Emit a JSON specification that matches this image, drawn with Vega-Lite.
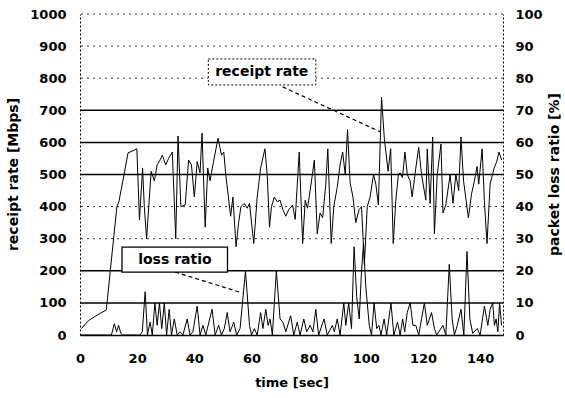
{
  "$schema": "https://vega.github.io/schema/vega-lite/v6.json",
  "autosize": "none",
  "width": 423,
  "height": 321,
  "padding": {"left": 80, "top": 14, "right": 62, "bottom": 63},
  "background": "white",
  "config": {
    "view": {"stroke": null},
    "axis": {
      "labelFont": "DejaVu Sans", "labelFontWeight": "bold", "labelFontSize": 13, "labelColor": "black",
      "titleFont": "DejaVu Sans", "titleFontWeight": "bold", "titleFontSize": 13, "titleColor": "black",
      "grid": false, "ticks": false, "domainColor": "black", "labelOverlap": false, "labelBound": false, "labelFlush": false, "format": "d"
    }
  },
  "datasets": {
    "rate": [
      {"t": 0.5, "v": 20}, {"t": 3, "v": 45}, {"t": 6, "v": 62}, {"t": 9.2, "v": 78}, {"t": 12.9, "v": 400},
      {"t": 13.6, "v": 415}, {"t": 15, "v": 480}, {"t": 16.8, "v": 567}, {"t": 19.9, "v": 580}, {"t": 20.8, "v": 358},
      {"t": 21.9, "v": 520}, {"t": 22.5, "v": 400}, {"t": 23.3, "v": 300}, {"t": 24.9, "v": 510}, {"t": 26, "v": 480},
      {"t": 27, "v": 530}, {"t": 28, "v": 545}, {"t": 28.8, "v": 560}, {"t": 30, "v": 530}, {"t": 31, "v": 550},
      {"t": 32.3, "v": 570}, {"t": 33.5, "v": 300}, {"t": 34.3, "v": 620}, {"t": 35.3, "v": 400}, {"t": 36.8, "v": 405},
      {"t": 38, "v": 545}, {"t": 39, "v": 530}, {"t": 40, "v": 430}, {"t": 41, "v": 540}, {"t": 42, "v": 505},
      {"t": 42.7, "v": 629}, {"t": 43.8, "v": 336}, {"t": 44.7, "v": 520}, {"t": 45.5, "v": 480}, {"t": 46.5, "v": 530},
      {"t": 48.3, "v": 613}, {"t": 49.5, "v": 560}, {"t": 50.3, "v": 570}, {"t": 51, "v": 500}, {"t": 52.7, "v": 370},
      {"t": 53.5, "v": 430}, {"t": 54.6, "v": 275}, {"t": 55.5, "v": 350}, {"t": 56.3, "v": 400}, {"t": 57.5, "v": 410},
      {"t": 58.5, "v": 395}, {"t": 59.3, "v": 410}, {"t": 60.8, "v": 285}, {"t": 62, "v": 430}, {"t": 63.2, "v": 520},
      {"t": 64.7, "v": 580}, {"t": 65.5, "v": 500}, {"t": 66.3, "v": 336}, {"t": 67, "v": 400}, {"t": 68, "v": 430},
      {"t": 69, "v": 415}, {"t": 70, "v": 420}, {"t": 71, "v": 390}, {"t": 72, "v": 370}, {"t": 73, "v": 390},
      {"t": 74.4, "v": 405}, {"t": 75.3, "v": 360}, {"t": 76.7, "v": 570}, {"t": 77.9, "v": 285}, {"t": 78.8, "v": 420},
      {"t": 79.6, "v": 395}, {"t": 81, "v": 480}, {"t": 82, "v": 545}, {"t": 83, "v": 315}, {"t": 84, "v": 380},
      {"t": 84.9, "v": 365}, {"t": 86, "v": 470}, {"t": 86.7, "v": 580}, {"t": 87.9, "v": 285}, {"t": 88.8, "v": 400},
      {"t": 90, "v": 460}, {"t": 91, "v": 530}, {"t": 91.9, "v": 570}, {"t": 92.8, "v": 500}, {"t": 93.6, "v": 640},
      {"t": 94.5, "v": 475}, {"t": 95.5, "v": 430}, {"t": 96.5, "v": 350}, {"t": 97.6, "v": 390}, {"t": 98.5, "v": 400},
      {"t": 99.5, "v": 220}, {"t": 100.5, "v": 400}, {"t": 101.5, "v": 430}, {"t": 102.7, "v": 500}, {"t": 103.5, "v": 470},
      {"t": 104.4, "v": 405}, {"t": 105.5, "v": 741}, {"t": 106.5, "v": 610}, {"t": 107.8, "v": 510}, {"t": 108.7, "v": 580},
      {"t": 109.6, "v": 285}, {"t": 110.5, "v": 420}, {"t": 111.4, "v": 500}, {"t": 112, "v": 505}, {"t": 112.8, "v": 490},
      {"t": 113.7, "v": 570}, {"t": 114.5, "v": 500}, {"t": 115.5, "v": 480}, {"t": 116.2, "v": 430}, {"t": 117.5, "v": 520},
      {"t": 118.5, "v": 585}, {"t": 119.5, "v": 500}, {"t": 121, "v": 420}, {"t": 121.5, "v": 580}, {"t": 122.5, "v": 410},
      {"t": 123.4, "v": 617}, {"t": 124, "v": 315}, {"t": 125, "v": 500}, {"t": 126.3, "v": 595}, {"t": 127, "v": 380},
      {"t": 128, "v": 405}, {"t": 129.5, "v": 500}, {"t": 130.5, "v": 410}, {"t": 131.5, "v": 500}, {"t": 132.5, "v": 450},
      {"t": 133.3, "v": 617}, {"t": 134.2, "v": 480}, {"t": 135.9, "v": 365}, {"t": 137, "v": 440}, {"t": 138, "v": 480},
      {"t": 138.9, "v": 525}, {"t": 139.5, "v": 470}, {"t": 140.7, "v": 580}, {"t": 141.5, "v": 415}, {"t": 142.4, "v": 285},
      {"t": 143.5, "v": 470}, {"t": 144.9, "v": 520}, {"t": 145.8, "v": 540}, {"t": 146.6, "v": 570}, {"t": 147.5, "v": 545}
    ],
    "loss": [
      {"t": 0, "p": 0}, {"t": 11, "p": 0}, {"t": 12, "p": 3.5}, {"t": 12.8, "p": 1}, {"t": 13.5, "p": 3}, {"t": 14.3, "p": 0.5},
      {"t": 15, "p": 0}, {"t": 21, "p": 0}, {"t": 21.8, "p": 1}, {"t": 22.8, "p": 13.5}, {"t": 23.6, "p": 0}, {"t": 24.5, "p": 4},
      {"t": 25.3, "p": 0}, {"t": 26.2, "p": 10}, {"t": 27, "p": 3}, {"t": 27.8, "p": 10}, {"t": 28.6, "p": 2}, {"t": 29.5, "p": 10},
      {"t": 30.3, "p": 0}, {"t": 31.2, "p": 8}, {"t": 32, "p": 0}, {"t": 33, "p": 5}, {"t": 34, "p": 0}, {"t": 35, "p": 1},
      {"t": 36, "p": 0}, {"t": 37.5, "p": 5}, {"t": 38.5, "p": 0}, {"t": 39.5, "p": 1}, {"t": 41, "p": 9}, {"t": 42, "p": 0},
      {"t": 43, "p": 3}, {"t": 44, "p": 0}, {"t": 46.2, "p": 8}, {"t": 47.3, "p": 0}, {"t": 48.5, "p": 3}, {"t": 49.5, "p": 0},
      {"t": 50.5, "p": 2}, {"t": 51.5, "p": 7}, {"t": 52.5, "p": 1}, {"t": 53.8, "p": 4}, {"t": 54.8, "p": 0}, {"t": 56, "p": 2},
      {"t": 57.9, "p": 20}, {"t": 59.3, "p": 3}, {"t": 60, "p": 0}, {"t": 61, "p": 2}, {"t": 62, "p": 0}, {"t": 63.2, "p": 7},
      {"t": 64, "p": 2}, {"t": 65, "p": 8}, {"t": 65.8, "p": 3}, {"t": 66.5, "p": 5}, {"t": 67.3, "p": 0}, {"t": 68.7, "p": 20},
      {"t": 70, "p": 5}, {"t": 71, "p": 4}, {"t": 72, "p": 1}, {"t": 73.7, "p": 6}, {"t": 74.8, "p": 0}, {"t": 76, "p": 4},
      {"t": 77, "p": 0}, {"t": 78.3, "p": 5}, {"t": 79.3, "p": 1}, {"t": 80.5, "p": 3}, {"t": 81.5, "p": 1}, {"t": 82.5, "p": 8},
      {"t": 83.5, "p": 0}, {"t": 85.4, "p": 5}, {"t": 86.5, "p": 0}, {"t": 88.3, "p": 3}, {"t": 89, "p": 1}, {"t": 90, "p": 5},
      {"t": 91, "p": 0}, {"t": 92.3, "p": 10}, {"t": 93, "p": 3}, {"t": 94, "p": 10}, {"t": 95, "p": 2}, {"t": 95.9, "p": 27.5},
      {"t": 96.8, "p": 12}, {"t": 97.7, "p": 5}, {"t": 98.5, "p": 20}, {"t": 99.2, "p": 28.5}, {"t": 100, "p": 15}, {"t": 100.5, "p": 10},
      {"t": 101.2, "p": 3}, {"t": 102, "p": 0}, {"t": 102.9, "p": 10}, {"t": 103.8, "p": 2}, {"t": 104.6, "p": 3}, {"t": 105.3, "p": 0},
      {"t": 106.4, "p": 5}, {"t": 107.3, "p": 0}, {"t": 108.8, "p": 10}, {"t": 109.8, "p": 0}, {"t": 111.1, "p": 4}, {"t": 112, "p": 0},
      {"t": 112.9, "p": 5}, {"t": 113.6, "p": 1}, {"t": 114.5, "p": 7}, {"t": 115.5, "p": 10}, {"t": 116.5, "p": 3}, {"t": 117.5, "p": 3},
      {"t": 118.5, "p": 0}, {"t": 119.5, "p": 5}, {"t": 120.5, "p": 10}, {"t": 121.5, "p": 3}, {"t": 123, "p": 7}, {"t": 124, "p": 2},
      {"t": 124.8, "p": 0}, {"t": 127, "p": 3}, {"t": 128, "p": 0}, {"t": 129.2, "p": 22}, {"t": 130.2, "p": 5}, {"t": 131, "p": 0},
      {"t": 132, "p": 3}, {"t": 133.3, "p": 8}, {"t": 134.3, "p": 0}, {"t": 135.4, "p": 26}, {"t": 136.4, "p": 5}, {"t": 137.4, "p": 0.5},
      {"t": 139, "p": 2}, {"t": 140, "p": 0}, {"t": 141.5, "p": 9}, {"t": 142.7, "p": 3}, {"t": 143.5, "p": 8}, {"t": 144.4, "p": 10},
      {"t": 145, "p": 3}, {"t": 145.6, "p": 5}, {"t": 146.2, "p": 1}, {"t": 146.8, "p": 10}, {"t": 147.5, "p": 3}
    ]
  },
  "layer": [
    {
      "layer": [
        {
          "data": {"values": [{"g": 300}, {"g": 400}, {"g": 800}, {"g": 900}, {"g": 1000}]},
          "mark": {"type": "rule", "color": "#333", "strokeWidth": 1, "strokeDash": [2, 4]},
          "encoding": {"y": {"field": "g", "type": "quantitative", "scale": {"domain": [0, 1000], "nice": false},
                  "axis": {"title": "receipt rate [Mbps]", "orient": "left", "values": [0, 100, 200, 300, 400, 500, 600, 700, 800, 900, 1000], "tickCount": 11, "labelOverlap": false, "labelPadding": 14, "domainDash": [2, 2], "titleFontSize": 14, "titleX": -67, "titleY": 160, "titleAngle": -90, "titleBaseline": "middle", "titleAlign": "center"}}}
        },
        {
          "data": {"values": [{"g": 100}, {"g": 200}, {"g": 500}, {"g": 600}, {"g": 700}]},
          "mark": {"type": "rule", "color": "black", "strokeWidth": 1.5},
          "encoding": {"y": {"field": "g", "type": "quantitative"}}
        },
        {
          "data": {"name": "rate"},
          "mark": {"type": "line", "color": "black", "strokeWidth": 1},
          "encoding": {
            "x": {"field": "t", "type": "quantitative", "scale": {"domain": [0, 148], "nice": false},
                  "axis": {"title": "time [sec]", "values": [0, 20, 40, 60, 80, 100, 120, 140], "labelOverlap": false, "labelPadding": 17, "domainWidth": 1.5, "titleY": 41, "titleBaseline": "top"}},
            "y": {"field": "v", "type": "quantitative"}
          }
        },
        {
          "data": {"values": [{"a": 70.9, "b": 105.3, "c": 773, "d": 632}, {"a": 33.3, "b": 56.8, "c": 196, "d": 131}]},
          "mark": {"type": "rule", "color": "black", "strokeWidth": 1.2, "strokeDash": [4, 3]},
          "encoding": {
            "x": {"field": "a", "type": "quantitative"}, "x2": {"field": "b"},
            "y": {"field": "c", "type": "quantitative"}, "y2": {"field": "d"}
          }
        },
        {
          "data": {"values": [{"a": 44.9, "b": 82.5, "c": 779, "d": 860}]},
          "mark": {"type": "rect", "fill": "white", "stroke": "black", "strokeWidth": 1, "strokeDash": [2, 2]},
          "encoding": {
            "x": {"field": "a", "type": "quantitative"}, "x2": {"field": "b"},
            "y": {"field": "c", "type": "quantitative"}, "y2": {"field": "d"}
          }
        },
        {
          "data": {"values": [{"a": 14.7, "b": 51.6, "c": 196, "d": 274}]},
          "mark": {"type": "rect", "fill": "white", "stroke": "black", "strokeWidth": 1.3},
          "encoding": {
            "x": {"field": "a", "type": "quantitative"}, "x2": {"field": "b"},
            "y": {"field": "c", "type": "quantitative"}, "y2": {"field": "d"}
          }
        },
        {
          "data": {"values": [{"a": 63.6, "c": 818, "s": "receipt rate"}, {"a": 33.2, "c": 233, "s": "loss ratio"}]},
          "mark": {"type": "text", "font": "DejaVu Sans", "fontWeight": "bold", "fontSize": 14, "color": "black", "align": "center", "baseline": "middle"},
          "encoding": {
            "x": {"field": "a", "type": "quantitative"},
            "y": {"field": "c", "type": "quantitative"},
            "text": {"field": "s"}
          }
        }
      ]
    },
    {
      "data": {"name": "loss"},
      "mark": {"type": "line", "color": "black", "strokeWidth": 1},
      "encoding": {
        "x": {"field": "t", "type": "quantitative"},
        "y": {"field": "p", "type": "quantitative", "scale": {"domain": [0, 100], "nice": false},
              "axis": {"title": "packet loss ratio [%]", "orient": "right", "values": [0, 10, 20, 30, 40, 50, 60, 70, 80, 90, 100], "labelOverlap": false, "labelPadding": 12, "domainDash": [2, 2], "titleFontSize": 14, "titleX": 51, "titleY": 160, "titleAngle": -90, "titleBaseline": "middle", "titleAlign": "center"}}
      }
    }
  ],
  "resolve": {"scale": {"y": "independent"}, "axis": {"y": "independent"}}
}
